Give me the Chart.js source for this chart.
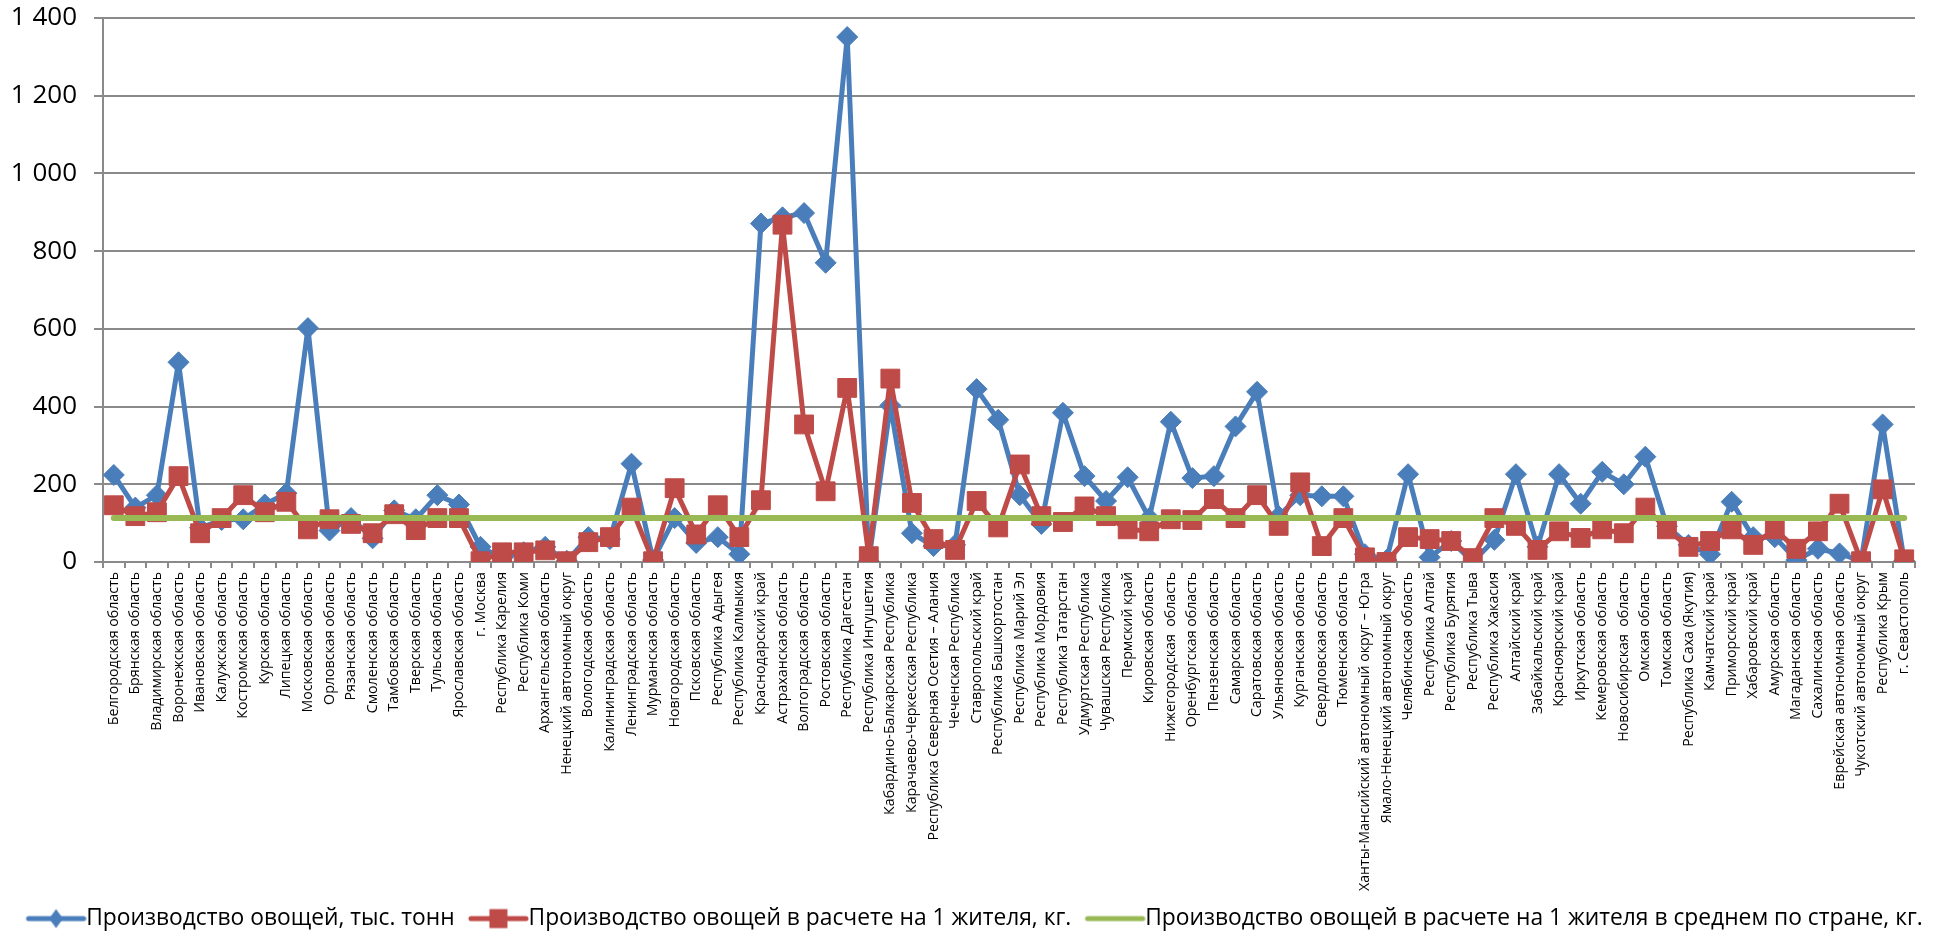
<!DOCTYPE html>
<html lang="ru">
<head>
<meta charset="utf-8">
<title>Производство овощей по субъектам РФ</title>
<script src="https://cdn.jsdelivr.net/npm/chart.js@4.4.1/dist/chart.umd.min.js"></script>
<style>
  html, body { margin: 0; padding: 0; background: #ffffff; }
  canvas { display: block; }
</style>
</head>
<body>
<canvas id="chart" width="1951" height="940"></canvas>
<script>
// Subjects of the Russian Federation, in the usual statistical order
const regions = [
  'Белгородская область', 'Брянская область', 'Владимирская область', 'Воронежская область',
  'Ивановская область', 'Калужская область', 'Костромская область', 'Курская область',
  'Липецкая область', 'Московская область', 'Орловская область', 'Рязанская область',
  'Смоленская область', 'Тамбовская область', 'Тверская область', 'Тульская область',
  'Ярославская область', 'г. Москва', 'Республика Карелия', 'Республика Коми',
  'Архангельская область', 'Ненецкий автономный округ', 'Вологодская область', 'Калининградская область',
  'Ленинградская область', 'Мурманская область', 'Новгородская область', 'Псковская область',
  'Республика Адыгея', 'Республика Калмыкия', 'Краснодарский край', 'Астраханская область',
  'Волгоградская область', 'Ростовская область', 'Республика Дагестан', 'Республика Ингушетия',
  'Кабардино-Балкарская Республика', 'Карачаево-Черкесская Республика', 'Республика Северная Осетия – Алания', 'Чеченская Республика',
  'Ставропольский край', 'Республика Башкортостан', 'Республика Марий Эл', 'Республика Мордовия',
  'Республика Татарстан', 'Удмуртская Республика', 'Чувашская Республика', 'Пермский край',
  'Кировская область', 'Нижегородская  область', 'Оренбургская область', 'Пензенская область',
  'Самарская область', 'Саратовская область', 'Ульяновская область', 'Курганская область',
  'Свердловская область', 'Тюменская область', 'Ханты-Мансийский автономный округ – Югра', 'Ямало-Ненецкий автономный округ',
  'Челябинская область', 'Республика Алтай', 'Республика Бурятия', 'Республика Тыва',
  'Республика Хакасия', 'Алтайский край', 'Забайкальский край', 'Красноярский край',
  'Иркутская область', 'Кемеровская область', 'Новосибирская  область', 'Омская область',
  'Томская область', 'Республика Саха (Якутия)', 'Камчатский край', 'Приморский край',
  'Хабаровский край', 'Амурская область', 'Магаданская область', 'Сахалинская область',
  'Еврейская автономная область', 'Чукотский автономный округ', 'Республика Крым', 'г. Севастополь'
];

// Vegetable output, thousand tonnes
const production = [
  224, 140, 172, 514, 88, 108, 110, 148,
  177, 602, 81, 113, 61, 133, 110, 172,
  148, 39, 10, 25, 39, 3, 64, 59,
  253, 5, 113, 49, 64, 20, 871, 887,
  898, 770, 1351, 2, 403, 74, 41, 44,
  445, 366, 172, 98, 384, 221, 157, 218,
  113, 361, 216, 221, 349, 438, 118, 172,
  169, 169, 20, 5, 226, 12, 54, 0,
  57, 226, 39, 226, 150, 232, 200, 271,
  92, 44, 20, 155, 64, 64, 5, 34,
  22, 2, 354, 3
];

// Vegetable output per inhabitant, kg
const perCapita = [
  146, 118, 128, 221, 74, 113, 172, 128,
  155, 84, 110, 98, 74, 123, 82, 113,
  113, 2, 25, 25, 30, 2, 51, 64,
  140, 2, 190, 71, 146, 64, 159, 868,
  354, 182, 448, 15, 472, 152, 59, 31,
  157, 89, 251, 118, 103, 143, 118, 84,
  79, 110, 108, 162, 113, 172, 93, 205,
  41, 113, 12, 0, 64, 59, 54, 10,
  113, 93, 31, 79, 62, 84, 74, 140,
  84, 39, 54, 84, 44, 84, 34, 79,
  150, 2, 187, 7
];

// National average output per inhabitant, kg
const nationalPerCapita = 113;

// Value axis
const yMin = 0;
const yMax = 1400;
const yStep = 200;

const seriesNames = [
  'Производство овощей, тыс. тонн',
  'Производство овощей в расчете на 1 жителя, кг.',
  'Производство овощей в расчете на 1 жителя в среднем по стране, кг.'
];

const FONT = '"Open Sans", "Noto Sans", "DejaVu Sans", sans-serif';
const BLUE = '#4A7EBB';
const RED = '#BE4B48';
const GREEN = '#98B954';
const GRID = '#8A8A8A';

// Legend keys: a short line segment with the series marker on it.
// The segment sits right of the image centre so that it starts at the
// item's left edge and ends just before the label text.
function legendIcon(color, marker) {
  const c = document.createElement('canvas');
  c.width = 70;
  c.height = 24;
  const g = c.getContext('2d');
  const x0 = 12, x1 = 67, mid = (x0 + x1) / 2;
  g.strokeStyle = color;
  g.fillStyle = color;
  g.lineWidth = 5;
  g.lineCap = 'round';
  g.beginPath();
  g.moveTo(x0, 12);
  g.lineTo(x1, 12);
  g.stroke();
  if (marker === 'diamond') {
    g.beginPath();
    g.moveTo(mid, 2.5);
    g.lineTo(mid + 7, 12);
    g.lineTo(mid, 21.5);
    g.lineTo(mid - 7, 12);
    g.closePath();
    g.fill();
  } else if (marker === 'square') {
    g.fillRect(mid - 9, 2.5, 18, 19);
  }
  return c;
}
const legendIcons = [
  legendIcon(BLUE, 'diamond'),
  legendIcon(RED, 'square'),
  legendIcon(GREEN, null)
];

function groupThousands(v) {
  return String(v).replace(/\B(?=(\d{3})+(?!\d))/g, ' ');
}

new Chart(document.getElementById('chart'), {
  type: 'line',
  data: {
    labels: regions,
    datasets: [
      {
        label: seriesNames[0],
        data: production,
        borderColor: BLUE,
        backgroundColor: BLUE,
        borderWidth: 5,
        borderJoinStyle: 'round',
        borderCapStyle: 'round',
        pointStyle: 'rectRot',
        pointRadius: 10.5,
        pointBorderWidth: 1,
        pointBackgroundColor: BLUE,
        pointBorderColor: BLUE,
        tension: 0,
        order: 3
      },
      {
        label: seriesNames[1],
        data: perCapita,
        borderColor: RED,
        backgroundColor: RED,
        borderWidth: 5,
        borderJoinStyle: 'round',
        borderCapStyle: 'round',
        pointStyle: 'rect',
        pointRadius: 13.3,
        pointBorderWidth: 1,
        pointBackgroundColor: RED,
        pointBorderColor: RED,
        tension: 0,
        order: 2
      },
      {
        label: seriesNames[2],
        data: [
          { x: regions[0], y: nationalPerCapita },
          { x: regions[regions.length - 1], y: nationalPerCapita }
        ],
        borderColor: GREEN,
        backgroundColor: GREEN,
        borderWidth: 6,
        borderCapStyle: 'round',
        pointRadius: 0,
        tension: 0,
        order: 1
      }
    ]
  },
  options: {
    responsive: false,
    devicePixelRatio: 1,
    animation: false,
    layout: { padding: { top: 18, right: 0, left: 0, bottom: 0 } },
    plugins: {
      tooltip: { enabled: false },
      legend: {
        position: 'bottom',
        labels: {
          usePointStyle: true,
          pointStyleWidth: 46.5,
          padding: 16,
          color: '#000000',
          font: { family: FONT, size: 22.8 },
          generateLabels: (chart) => chart.data.datasets.map((ds, i) => ({
            text: ds.label,
            pointStyle: legendIcons[i],
            fillStyle: ds.borderColor,
            strokeStyle: ds.borderColor,
            fontColor: '#000000',
            lineWidth: 0,
            hidden: false,
            datasetIndex: i
          }))
        }
      }
    },
    scales: {
      x: {
        type: 'category',
        offset: true,
        grid: {
          display: true,
          offset: true,
          drawOnChartArea: false,
          drawTicks: true,
          tickLength: 6,
          color: GRID,
          lineWidth: 2
        },
        border: { display: true, color: GRID, width: 2 },
        ticks: {
          autoSkip: false,
          minRotation: 90,
          maxRotation: 90,
          padding: 4,
          color: '#000000',
          font: { family: FONT, size: 14.2 }
        },
        afterFit: (scale) => {
          scale.height = 329.2;
          scale.paddingLeft = 0;
          scale.paddingRight = 0;
        }
      },
      y: {
        min: yMin,
        max: yMax,
        grid: {
          color: GRID,
          lineWidth: 2,
          tickLength: 9,
          drawTicks: true
        },
        border: { display: true, color: GRID, width: 2 },
        ticks: {
          stepSize: yStep,
          padding: 17,
          color: '#000000',
          font: { family: FONT, size: 26 },
          callback: (v) => groupThousands(v)
        },
        afterFit: (scale) => {
          scale.width = 103;
          scale.paddingTop = 0;
          scale.paddingBottom = 0;
        }
      },
      // Empty right-hand margin strip beside the plot
      margin: {
        type: 'linear',
        position: 'right',
        display: true,
        grid: { display: false, drawTicks: false },
        border: { display: false },
        ticks: { display: false },
        afterFit: (scale) => {
          scale.width = 36;
          scale.paddingTop = 0;
          scale.paddingBottom = 0;
        }
      }
    }
  }
});
</script>
</body>
</html>
